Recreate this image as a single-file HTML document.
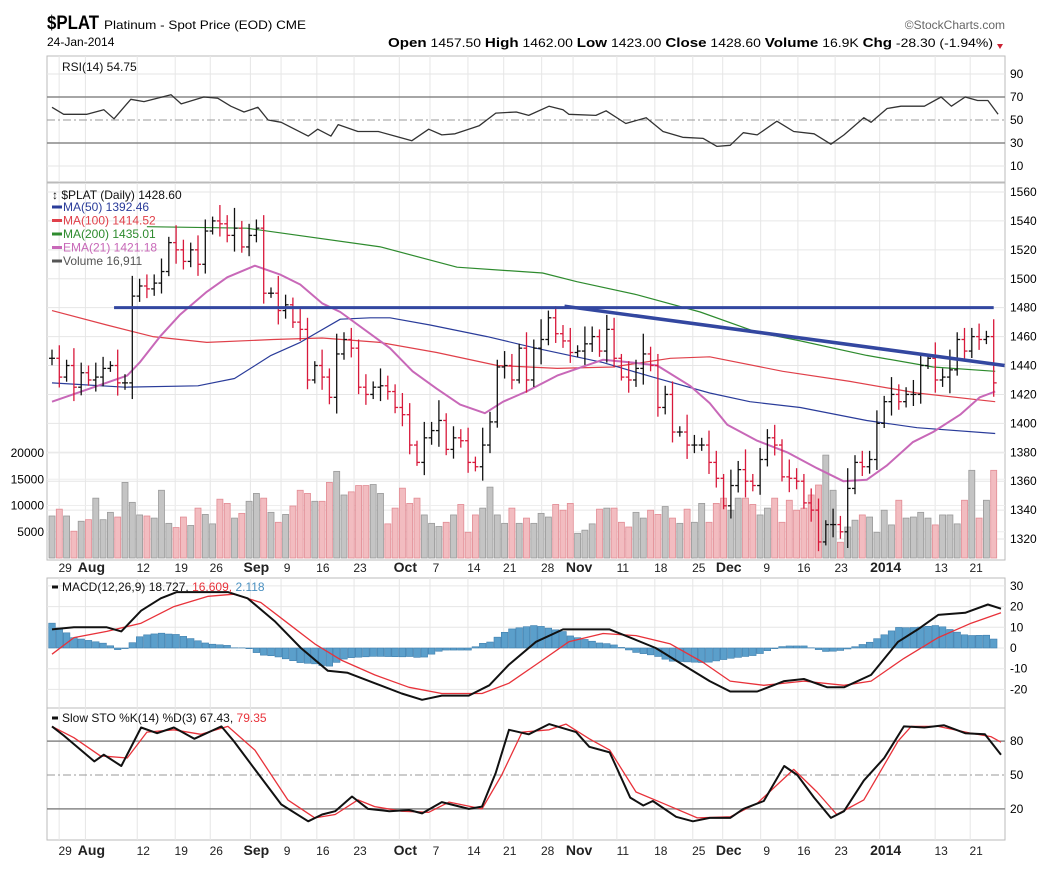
<!DOCTYPE html>
<html><head><meta charset="utf-8"><title>$PLAT chart</title>
<style>
html,body{margin:0;padding:0;background:#fff;}
svg{display:block;font-family:"Liberation Sans",sans-serif;}
.nar{font-family:"Liberation Sans Narrow","Liberation Sans",sans-serif;}
</style></head>
<body>
<svg id="chart" width="1045" height="879" viewBox="0 0 1045 879" xmlns="http://www.w3.org/2000/svg">
  <g>
    <text x="47" y="29" font-size="19" font-weight="bold" textLength="52" lengthAdjust="spacingAndGlyphs">$PLAT</text>
    <text x="104" y="29" font-size="12" textLength="202" lengthAdjust="spacingAndGlyphs">Platinum  - Spot Price (EOD) CME</text>
    <text x="47" y="46" font-size="12">24-Jan-2014</text>
    <text x="1005" y="29" font-size="12" fill="#666" text-anchor="end">©StockCharts.com</text>
    <text x="388" y="47" font-size="12" textLength="605" lengthAdjust="spacingAndGlyphs"><tspan font-weight="bold" font-size="13">Open</tspan> 1457.50 <tspan font-weight="bold" font-size="13">High</tspan> 1462.00 <tspan font-weight="bold" font-size="13">Low</tspan> 1423.00 <tspan font-weight="bold" font-size="13">Close</tspan> 1428.60 <tspan font-weight="bold" font-size="13">Volume</tspan> 16.9K <tspan font-weight="bold" font-size="13">Chg</tspan> -28.30 (-1.94%)</text>
    <polygon points="997,44 1003,44 1000,49" fill="#cc2233"/>
  </g>
  <g id="grid"></g>
  <g id="marks"></g>
  <g id="labels"></g>
</svg>
<script>
// ---------- data ----------
const closes = [1445,1432,1440,1425,1435,1430,1432,1438,1440,1428,
1428,1488,1495,1493,1497,1505,1525,1520,1512,1520,
1510,1533,1540,1538,1530,1535,1522,1530,1535,1490,
1490,1478,1482,1470,1465,1430,1440,1432,1418,1448,
1458,1452,1425,1420,1425,1426,1422,1411,1406,1385,
1373,1390,1395,1402,1382,1390,1388,1373,1370,1385,
1401,1439,1440,1430,1452,1430,1452,1458,1473,1462,
1457,1449,1450,1455,1460,1450,1465,1445,1432,1430,
1438,1448,1440,1411,1420,1394,1394,1385,1385,1385,
1373,1362,1343,1357,1368,1360,1357,1375,1390,1385,
1363,1362,1360,1345,1340,1318,1330,1330,1325,1355,
1373,1370,1375,1400,1415,1420,1415,1420,1420,1440,
1445,1430,1432,1437,1458,1450,1460,1458,1460,1428];
const wicks = [6,9,4,12,7,5,10,8,3,11,6,14,5,8];
const volumes = [8,9.3,8,5.1,7,7.3,11.4,7.3,8.7,7.8,14.4,10.6,8.2,8,7.6,12.9,6.6,5.8,7.8,6.2,9.5,8.3,6.5,11.2,10.4,7.6,8.5,10.8,12.3,11.4,8.7,6.8,8.3,9.9,12.9,12.3,10.8,10.8,14.4,16.5,12,12.6,13.8,13.8,
14,12.3,6.5,9.5,13.3,10.4,11.4,8.2,6.6,6,6.8,8.2,10.2,4.9,8.2,9.5,13.5,8.2,6.6,9.5,6.6,7.6,6.6,8.5,7.8,10.2,9.1,10.4,4.7,5.3,6.5,9.3,9.5,9.5,6.8,5.9,8.7,7.6,9.1,8.3,9.8,7.6,6.6,9.3,6.8,10.4,
6.8,10.4,11.4,9.1,11.4,11.4,10.2,8.2,9.5,11.4,6.8,11,9.1,9.5,12,13.9,19.6,12.9,3,5.9,7.2,8.2,7.8,4.9,9.1,6.3,11,7.6,7.8,8.7,7.6,6.3,8.2,8.2,6.5,11,16.7,7.6,11,16.7];
const ma50Idx = [0,10,20,25,30,34,39.5,43.6,46.3,51.8,59.6,66.3,75.5,82.3,90.1,95.6,102.5,111.6,118.5,129.2];
const ma50Vals = [1428,1425,1426,1431,1447,1456,1472,1473,1473,1468,1460,1452,1442,1432,1421,1415,1411,1402,1397,1393];
const ma100Idx = [0,7.5,13.8,21.2,30.3,37,44.9,52.7,61,69.2,76.8,84.7,90.1,100.1,109.3,118.5,129.2];
const ma100Vals = [1478,1468,1460,1456,1458,1459,1456,1449,1440,1438,1439,1445,1446,1436,1429,1421,1415];
const ma200Idx = [13,26.7,45,55.5,67.2,71.9,80.1,88.8,96.6,102.5,111.6,120.7,129.2];
const ma200Vals = [1536,1535,1522,1508,1504,1498,1489,1477,1463,1457,1447,1439,1436];
const emaIdx = [0,10.3,12,14.8,17.5,21.2,24,27.8,31.2,34,37,39.5,46.3,49.4,52.7,55.9,59.3,61.8,65,69.2,75.5,79.6,82.9,87.4,90.1,92.5,96.6,100.7,104.8,108.4,111.6,114.4,117.9,120.7,124.4,127.1,129.2];
const emaVals = [1415,1433,1442,1460,1475,1491,1501,1509,1503,1496,1483,1477,1452,1436,1424,1413,1407,1415,1422,1433,1444,1442,1440,1426,1414,1399,1388,1380,1369,1360,1361,1371,1387,1394,1406,1418,1422];
const rsiIdx = [0,1.6,4.8,7.1,8.5,10.8,12.6,16.3,17.7,20.8,22.7,24.5,26.3,28.2,29.6,31.4,35.1,36.4,38.2,39.2,41.9,44.7,47,49.3,51.6,53.4,55.2,58.5,60.8,63.6,65.3,68.1,70,70.8,74.5,75.9,78.6,81.4,83.7,86.4,89.2,91.1,92.9,94.7,96.6,99.3,101.6,104.4,106.7,108.5,111.2,112.2,114.4,116.3,119.5,121.8,123.2,125.1,126.8,128.2,129.6];
const rsiVals = [61,55,55,59,51,68,66,72,64,70,69,62,57,61,50,48,36,42,36,46,40,40,36,32,42,37,38,45,56,57,54,62,59,55,54,58,47,52,40,35,34,27,28,39,37,49,40,38,29,37,52,48,60,62,62,70,62,70,67,67,55];
const macdIdx = [0,3,7.5,9.5,12.2,14.9,17.1,20.4,24.1,26.8,30.5,34.1,37.8,40.5,44.2,47.9,50.7,53.4,57.1,59.9,62.6,66.3,70,73.6,76.4,79.2,82.7,86.4,90.1,92.9,96.6,100.3,103,106.2,108.5,112.2,115.9,118.6,121.4,125.1,128.2,130];
const macdVals = [9,10,10,8,18,24,27,27,27,24,13,0,-11,-12,-17,-22,-25,-23,-23,-18,-8,3,9,9,9,5,0,-8,-16,-21,-21,-16,-15,-19,-19,-13,3,9,16,17,21,19];
const sigIdx = [0,3,7.5,12.2,16.7,21.4,24.9,28.6,32.3,36,39.7,44.2,48.9,53.4,58.9,62.6,66.3,70.8,75.5,80,84.7,89.2,92.9,97.5,103,108.5,112.2,116.7,121.4,125.9,130];
const sigVals = [-3,5,8,12,20,25,26,22,12,2,-6,-13,-19,-22,-22,-17,-8,3,7,6,2,-7,-16,-18,-16,-18,-16,-5,5,12,17];
const stoKIdx = [0,1.6,5.8,7.1,9.5,12.2,14.4,16.7,19.5,23.2,24.9,27.8,31.4,35.1,37,38.8,41.1,43.3,46.2,48.9,50.7,53.4,57.1,58.9,60.8,62.6,65.3,68.1,71.8,73.6,76.4,79.2,81,82.3,85.5,87.8,90.1,92.9,94.7,97.5,100.3,102.1,104.4,106.7,108.5,111.2,114,116.7,119.5,122.2,125.1,127.8,130];
const stoKVals = [93,85,62,68,58,92,87,92,82,93,80,55,24,9,15,18,31,20,18,19,16,26,20,22,52,90,86,95,88,75,70,30,23,27,13,9,12,12,20,27,58,50,30,12,18,45,65,93,92,94,87,86,68];
const stoDIdx = [0,3,6.6,10.3,13,16.7,20.4,24.1,27.8,32.3,36,38.8,41.9,44.2,47.9,51.6,54.4,58.9,61.6,64.4,68.1,70.4,73.6,76.4,80,83.7,88.4,92.9,96.6,101.6,104.8,107.5,111.2,115.9,117.7,121.4,125.9,128.6,130];
const stoDVals = [93,83,67,65,88,90,86,93,72,28,12,15,28,22,18,17,26,20,50,88,90,95,82,72,35,25,12,13,25,55,35,15,28,80,93,93,87,84,79];
const dateLabels = ["29","Aug","12","19","26","Sep","9","16","23","Oct","7","14","21","28","Nov","11","18","25","Dec","9","16","23","2014","13","21"];
const dateIdx = [1.8,5.4,12.5,17.7,22.5,28,32.2,37.1,42.2,48.4,52.6,57.8,62.7,67.9,72.2,78.2,83.4,88.6,92.7,97.9,103,108.1,114.2,121.8,126.6];
const priceTicks = [1320,1340,1360,1380,1400,1420,1440,1460,1480,1500,1520,1540,1560];
const volTicks = [5000,10000,15000,20000];
const rsiTicks = [10,30,50,70,90];
const macdTicks = [-20,-10,0,10,20,30];
const stoTicks = [20,50,80];
const hLineLevel = [1480];
const trendIdx = [70.2, 130.5];
const trendVals = [1481, 1440];

// ---------- scales ----------
const L=47, R=1005;
const X = i => 52 + 7.3*i;
const yP = p => 192 + (1560-p)*1.446;
const yV = v => 558 - v*5.25;
const yR = r => 120 - (r-50)*1.15;
const yM = m => 648 - m*2.07;
const yS = s => 775 - (s-50)*1.13;
const NS="http://www.w3.org/2000/svg";
const grid=document.getElementById('grid'), marks=document.getElementById('marks'), labels=document.getElementById('labels');
function mk(tag, attrs, parent){const e=document.createElementNS(NS,tag);for(const k in attrs)e.setAttribute(k,attrs[k]);parent.appendChild(e);return e;}
function interp(ix, vs, i){ if(i<=ix[0])return vs[0]; for(let k=1;k<ix.length;k++){ if(i<=ix[k]){const t=(i-ix[k-1])/(ix[k]-ix[k-1]);return vs[k-1]+t*(vs[k]-vs[k-1]);} } return vs[vs.length-1]; }
function line(ix, vs, yf, color, w, name, parent){
  const pts = ix.map((i,k)=>X(i).toFixed(1)+','+yf(vs[k]).toFixed(1)).join(' ');
  const e = mk('polyline',{points:pts,fill:'none',stroke:color,'stroke-width':w,'stroke-linejoin':'round'},parent||marks);
  
  
  return e;
}

const panels = [["rsi-panel",56,182],["price-panel",183,560],["macd-panel",578,708],["sto-panel",708,840]];
panels.forEach(p=>{
  const r = mk('rect',{x:L,y:p[1],width:R-L,height:p[2]-p[1],fill:'#fff',stroke:'#bbb','stroke-width':1},grid);
  
  
});
dateIdx.forEach((d,k)=>{
  const x = X(d)-6;
  panels.forEach(p=>{
    const g = mk('line',{x1:x,x2:x,y1:p[1],y2:p[2],stroke:'#e6e6e6','stroke-width':1},grid);
    
    
  });
  [572,855].forEach(yy=>{
    const isMonth = /[A-Za-z]/.test(dateLabels[k]) || dateLabels[k]==="2014";
    const t = mk('text',{x:X(d),y:yy,'font-size':isMonth?14:12,'font-weight':isMonth?'bold':'normal','text-anchor':'middle',fill:'#222'},labels);
    t.textContent = dateLabels[k];
    
    
  });
});
priceTicks.forEach(p=>{
  const g = mk('line',{x1:L,x2:R,y1:yP(p),y2:yP(p),stroke:'#e6e6e6'},grid);
  
  
  const t = mk('text',{x:R+5,y:yP(p)+4,'font-size':12},labels);
  t.textContent = p;
  
  
});
volTicks.forEach(v=>{
  const g = mk('line',{x1:L,x2:R,y1:yV(v/1000),y2:yV(v/1000),stroke:'#eeeeee'},grid);
  
  
  const t = mk('text',{x:L-3,y:yV(v/1000)+4,'font-size':12,'text-anchor':'end'},labels);
  t.textContent = v;
  
  
});
rsiTicks.forEach(r=>{
  const strong = (r===70||r===30), mid = r===50;
  const g = mk('line',{x1:L,x2:R,y1:yR(r),y2:yR(r),stroke:strong?'#888':(mid?'#999':'#e6e6e6'),'stroke-width':strong?1.5:1,'stroke-dasharray':mid?'8,3,2,3':'none'},grid);
  
  
  const t = mk('text',{x:R+5,y:yR(r)+4,'font-size':12},labels);
  t.textContent = r;
  
  
});
macdTicks.forEach(m=>{
  const g = mk('line',{x1:L,x2:R,y1:yM(m),y2:yM(m),stroke:'#e6e6e6'},grid);
  
  
  const t = mk('text',{x:R+5,y:yM(m)+4,'font-size':12},labels);
  t.textContent = m;
  
  
});
stoTicks.forEach(s=>{
  const mid = s===50;
  const g = mk('line',{x1:L,x2:R,y1:yS(s),y2:yS(s),stroke:mid?'#999':'#888','stroke-width':mid?1:1.5,'stroke-dasharray':mid?'8,3,2,3':'none'},grid);
  
  
  const t = mk('text',{x:R+5,y:yS(s)+4,'font-size':12},labels);
  t.textContent = s;
  
  
});

volumes.forEach((v,i)=>{
  const up = i===0 || i>=closes.length || closes[i]>=closes[i-1];
  const r = mk('rect',{x:X(i)-3,y:yV(v),width:6,height:558-yV(v),fill:up?'#c4c4c4':'#f2bcc0',stroke:up?'#9a9a9a':'#e28c94','stroke-width':0.8},marks);
  
  
});
line(ma200Idx, ma200Vals, yP, '#2e8b2e', 1.2, 'ma200-line');
line(ma100Idx, ma100Vals, yP, '#e0404a', 1.2, 'ma100-line');
line(ma50Idx, ma50Vals, yP, '#2a3c9a', 1.2, 'ma50-line');
line(emaIdx, emaVals, yP, '#c868b8', 2, 'ema21-line');
closes.forEach((c,i)=>{
  const o = i>0 ? closes[i-1] : c;
  const w = wicks[i % wicks.length];
  const hi = Math.max(o,c)+w, lo = Math.min(o,c)-w*0.8;
  const col = (i>0 && c<closes[i-1]) ? '#d8193b' : '#111';
  const g = mk('g',{stroke:col,'stroke-width':1.3},marks);
  
  
  mk('line',{x1:X(i),x2:X(i),y1:yP(hi),y2:yP(lo)},g);
  mk('line',{x1:X(i)-3,x2:X(i),y1:yP(o),y2:yP(o)},g);
  mk('line',{x1:X(i),x2:X(i)+3,y1:yP(c),y2:yP(c)},g);
});
hLineLevel.forEach(h=>{
  const e = mk('line',{x1:X(8.5),x2:X(129),y1:yP(h),y2:yP(h),stroke:'#3347a0','stroke-width':3},marks);
  
  
});
line(trendIdx, trendVals, yP, '#3347a0', 3.5, 'downtrend-line');
line(rsiIdx, rsiVals, yR, '#333', 1.3, 'rsi-line');
for(let i=0;i<closes.length;i++){
  const h = interp(macdIdx,macdVals,i) - interp(sigIdx,sigVals,i);
  const y0 = yM(0), y1 = yM(h);
  const r = mk('rect',{x:X(i)-3.3,y:Math.min(y0,y1),width:6.6,height:Math.abs(y1-y0),fill:'#5b9fcb',stroke:'#3f7fae','stroke-width':0.6},marks);
  
  
}
line(sigIdx, sigVals, yM, '#e8323a', 1.3, 'macd-signal-line');
line(macdIdx, macdVals, yM, '#111', 2, 'macd-line');
line(stoDIdx, stoDVals, yS, '#e8323a', 1.3, 'sto-d-line');
line(stoKIdx, stoKVals, yS, '#111', 2, 'sto-k-line');

function txt(x,y,s,fill,size,name,bold){const t=mk('text',{x:x,y:y,'font-size':size||12,fill:fill||'#111','font-weight':bold?'bold':'normal'},labels);t.textContent=s;return t;}
txt(62,71,'RSI(14) 54.75','#111',12,'rsi-legend');
txt(52,199,'\u2195 $PLAT (Daily) 1428.60','#111',12,'price-legend');
const leg = [['MA(50) 1392.46','#2a3c9a'],['MA(100) 1414.52','#e0404a'],['MA(200) 1435.01','#2e8b2e'],['EMA(21) 1421.18','#c868b8'],['Volume 16,911','#555']];
leg.forEach((l,k)=>{
  const y = 211 + k*13.5;
  const sw = mk('line',{x1:52,x2:62,y1:y-4,y2:y-4,stroke:l[1],'stroke-width':3},labels);
  
  
  txt(63,y,l[0],l[1],12,'legend-entry');
});
const ml = mk('line',{x1:52,x2:58,y1:587,y2:587,stroke:'#111','stroke-width':3},labels);


const mt = txt(62,591,'MACD(12,26,9) 18.727, ','#111',12,'macd-legend');
const ts1 = mk('tspan',{fill:'#e8323a'},mt); ts1.textContent='16.609, ';
const ts2 = mk('tspan',{fill:'#4a90c0'},mt); ts2.textContent='2.118';
const sl = mk('line',{x1:52,x2:58,y1:718,y2:718,stroke:'#111','stroke-width':3},labels);


const st = txt(62,722,'Slow STO %K(14) %D(3) 67.43, ','#111',12,'sto-legend');
const ts3 = mk('tspan',{fill:'#e8323a'},st); ts3.textContent='79.35';
</script>
</body></html>
